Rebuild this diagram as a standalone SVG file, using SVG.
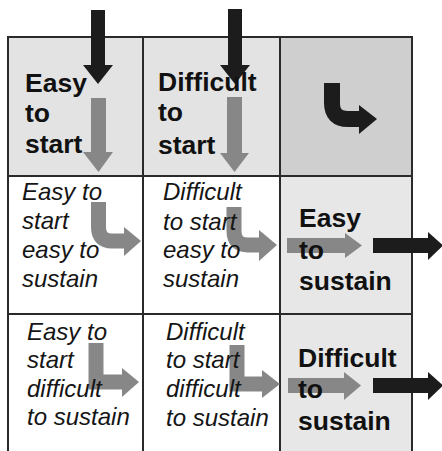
<svg xmlns="http://www.w3.org/2000/svg" width="442" height="451" viewBox="0 0 442 451">
<defs>
<style>
.b{font-family:"Liberation Sans",Arial,sans-serif;font-weight:bold;font-size:26.5px;fill:#111}
.i{font-family:"Liberation Sans",Arial,sans-serif;font-style:italic;font-size:24px;fill:#151515}
.ln{stroke:#2a2a2a;stroke-width:2;fill:none}
.gs{stroke:#878787;fill:none}
.gf{fill:#878787}
.ks{stroke:#1c1c1c;fill:none}
.kf{fill:#1c1c1c}
</style>
</defs>
<rect width="442" height="451" fill="#ffffff"/>
<g id="grid">
<rect x="8" y="37" width="135" height="139" fill="#e3e3e3"/>
<rect x="143" y="37" width="137" height="139" fill="#e3e3e3"/>
<rect x="280" y="37" width="132" height="139" fill="#cfcfcf"/>
<rect x="280" y="176" width="132" height="138" fill="#e7e7e7"/>
<rect x="280" y="314" width="132" height="137" fill="#e7e7e7"/>
<path class="ln" d="M8,451 V37 H412 V451 M143,37 V451 M280,37 V451 M8,176 H412 M8,314 H412"/>
</g>
<g id="connectors">
<rect class="kf" x="91" y="10" width="14" height="56"/>
<polygon class="kf" points="83,65 113,65 98,84"/>
<rect class="kf" x="228" y="9" width="14" height="57"/>
<polygon class="kf" points="220,65 250,65 235,84"/>
<rect class="gf" x="91" y="98" width="15" height="55"/>
<polygon class="gf" points="83,152 113,152 98.5,172"/>
<rect class="gf" x="227" y="97" width="15" height="56"/>
<polygon class="gf" points="220,153 249,153 234.5,172"/>
<path class="ks" stroke-width="16" d="M332,83 V103 Q332,119 348,119 H360"/>
<polygon class="kf" points="359,105 377,119 359,134"/>
<path class="gs" stroke-width="15" d="M98.5,202 V227 Q98.5,241 112,241 H125"/>
<polygon class="gf" points="124,227 141,241 124,256"/>
<path class="gs" stroke-width="15" d="M234,207 V231 Q234,245 248,245 H260"/>
<polygon class="gf" points="259,230 277,245 259,261"/>
<path class="gs" stroke-width="15" d="M96,343 V382 H123"/>
<polygon class="gf" points="122,368 139,382 122,397"/>
<path class="gs" stroke-width="15" d="M237,345 V384 H263"/>
<polygon class="gf" points="262,370 280,384 262,398"/>
<rect class="gf" x="287" y="238" width="59" height="15"/>
<polygon class="gf" points="345,233 362,245.5 345,258"/>
<rect class="kf" x="373" y="238" width="56" height="15"/>
<polygon class="kf" points="428,232 443,245.5 428,260"/>
<rect class="gf" x="288" y="378" width="57" height="15"/>
<polygon class="gf" points="344,372 361,385.5 344,400"/>
<rect class="kf" x="373" y="378" width="56" height="15"/>
<polygon class="kf" points="428,372 443,385.5 428,400"/>
</g>
<g id="easy-to-start">
<text class="b" x="25" y="92">Easy</text>
<text class="b" x="25" y="122">to</text>
<text class="b" x="25" y="153">start</text>
</g>
<g id="difficult-to-start">
<text class="b" x="158" y="91">Difficult</text>
<text class="b" x="158" y="121">to</text>
<text class="b" x="158" y="154">start</text>
</g>
<g id="corner"/>
<g id="easy-easy">
<text class="i" x="22" y="200">Easy to</text>
<text class="i" x="22" y="229">start</text>
<text class="i" x="22" y="258">easy to</text>
<text class="i" x="22" y="287">sustain</text>
</g>
<g id="difficult-easy">
<text class="i" x="163" y="200">Difficult</text>
<text class="i" x="163" y="230">to start</text>
<text class="i" x="163" y="258">easy to</text>
<text class="i" x="163" y="287">sustain</text>
</g>
<g id="easy-to-sustain">
<text class="b" x="299" y="227">Easy</text>
<text class="b" x="299" y="259">to</text>
<text class="b" x="299" y="290">sustain</text>
</g>
<g id="easy-difficult">
<text class="i" x="27" y="340">Easy to</text>
<text class="i" x="27" y="368">start</text>
<text class="i" x="27" y="397">difficult</text>
<text class="i" x="27" y="425">to sustain</text>
</g>
<g id="difficult-difficult">
<text class="i" x="166" y="340">Difficult</text>
<text class="i" x="166" y="368">to start</text>
<text class="i" x="166" y="397">difficult</text>
<text class="i" x="166" y="426">to sustain</text>
</g>
<g id="difficult-to-sustain">
<text class="b" x="298" y="367">Difficult</text>
<text class="b" x="298" y="398">to</text>
<text class="b" x="298" y="430">sustain</text>
</g>
</svg>
